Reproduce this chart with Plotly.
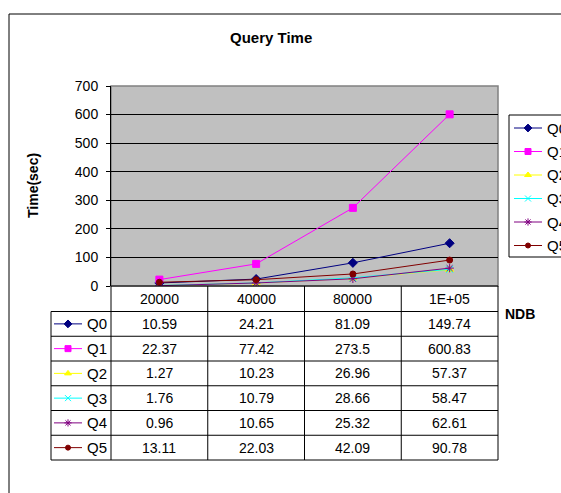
import plotly.graph_objects as go

# ---------------- data ----------------
categories = ["20000", "40000", "80000", "1E+05"]
series_names = ["Q0", "Q1", "Q2", "Q3", "Q4", "Q5"]
q0 = [10.59, 24.21, 81.09, 149.74]
q1 = [22.37, 77.42, 273.5, 600.83]
q2 = [1.27, 10.23, 26.96, 57.37]
q3 = [1.76, 10.79, 28.66, 58.47]
q4 = [0.96, 10.65, 25.32, 62.61]
q5 = [13.11, 22.03, 42.09, 90.78]
series_values = [q0, q1, q2, q3, q4, q5]
y_ticks = [0, 100, 200, 300, 400, 500, 600, 700]

# ---------------- styles ----------------
colors = ["#000080", "#FF00FF", "#FFFF00", "#00FFFF", "#800080", "#800000"]
symbols = ["diamond", "square", "triangle-up", "x-thin-open", "asterisk-open", "circle"]
msizes = [7, 7, 7, 7, 7, 6]

W, H = 561, 493
FONT = "Arial, Liberation Sans, sans-serif"


def px(x):
    return x / W


def py(y):
    return 1 - y / H


# plot area in pixels
L, R, T, B = 111, 498, 86, 286
# table geometry
TAB_L = 51
HEAD_B = 311.5
ROW_H = (460 - HEAD_B) / 6
row_edges = [B, HEAD_B] + [HEAD_B + ROW_H * (i + 1) for i in range(6)]
n_cat = len(categories)
col_w = (R - L) / n_cat

fig = go.Figure()

# main data traces
for name, vals, c, s, ms in zip(series_names, series_values, colors, symbols, msizes):
    fig.add_trace(go.Scatter(
        x=categories, y=vals, name=name, mode="lines+markers",
        line=dict(color=c, width=1),
        marker=dict(symbol=s, size=ms, color=c, line=dict(color=c, width=1)),
        showlegend=False, xaxis="x", yaxis="y", hoverinfo="x+y+name",
    ))

# swatches (table key column and right legend) on a pixel overlay axis
legend_y0, legend_dy = 128, 23.5
for i, (c, s, ms) in enumerate(zip(colors, symbols, msizes)):
    ry = HEAD_B + ROW_H * (i + 0.5)
    for (xa, xb, xm, yy) in [(54, 82, 68, ry), (514, 542, 528, legend_y0 + i * legend_dy)]:
        fig.add_trace(go.Scatter(
            x=[xa, xb], y=[yy, yy], mode="lines", line=dict(color=c, width=1),
            showlegend=False, hoverinfo="skip", xaxis="x2", yaxis="y2"))
        fig.add_trace(go.Scatter(
            x=[xm], y=[yy], mode="markers",
            marker=dict(symbol=s, size=ms - 1, color=c, line=dict(color=c, width=1)),
            showlegend=False, hoverinfo="skip", xaxis="x2", yaxis="y2"))

shapes = []
# outer chart border
shapes.append(dict(type="line", xref="paper", yref="paper", x0=px(9), x1=px(W + 5), y0=py(14), y1=py(14),
                   line=dict(color="#000000", width=1)))
shapes.append(dict(type="line", xref="paper", yref="paper", x0=px(9), x1=px(9), y0=py(14), y1=py(H + 5),
                   line=dict(color="#000000", width=1)))
# plot area background + border
shapes.append(dict(type="rect", xref="paper", yref="paper", x0=px(L), x1=px(R), y0=py(B), y1=py(T),
                   fillcolor="#C0C0C0", line=dict(color="#808080", width=1.5), layer="below"))
# table horizontal lines
shapes.append(dict(type="line", xref="paper", yref="paper", x0=px(L), x1=px(R), y0=py(B), y1=py(B),
                   line=dict(color="#000000", width=1)))
for ye in row_edges[1:]:
    shapes.append(dict(type="line", xref="paper", yref="paper", x0=px(TAB_L), x1=px(R), y0=py(ye), y1=py(ye),
                       line=dict(color="#000000", width=1)))
# table vertical lines
for k in range(n_cat + 1):
    xe = L + k * col_w
    shapes.append(dict(type="line", xref="paper", yref="paper", x0=px(xe), x1=px(xe), y0=py(B), y1=py(row_edges[-1]),
                       line=dict(color="#000000", width=1)))
shapes.append(dict(type="line", xref="paper", yref="paper", x0=px(TAB_L), x1=px(TAB_L), y0=py(HEAD_B),
                   y1=py(row_edges[-1]), line=dict(color="#000000", width=1)))
# legend box
shapes.append(dict(type="rect", xref="paper", yref="paper", x0=px(509), x1=px(W + 20), y0=py(115), y1=py(257),
                   fillcolor="#FFFFFF", line=dict(color="#000000", width=1), layer="below"))

ann = []
ann.append(dict(text="<b>Query Time</b>", x=px(271), y=py(38), xref="paper", yref="paper", showarrow=False,
                font=dict(family=FONT, size=15, color="#000000"), xanchor="center", yanchor="middle"))
ann.append(dict(text="<b>Time(sec)</b>", x=px(33), y=py(186), xref="paper", yref="paper", showarrow=False,
                textangle=-90, font=dict(family=FONT, size=14, color="#000000"), xanchor="center", yanchor="middle"))
ann.append(dict(text="<b>NDB</b>", x=px(520), y=py(314), xref="paper", yref="paper", showarrow=False,
                font=dict(family=FONT, size=14, color="#000000"), xanchor="center", yanchor="middle"))
# header row (category index positions on the category axis)
for k, cat in enumerate(categories):
    ann.append(dict(text=cat, x=k, xref="x", y=py((B + HEAD_B) / 2), yref="paper", showarrow=False,
                    font=dict(family=FONT, size=14, color="#000000"), xanchor="center", yanchor="middle"))
# data rows
for i, (name, vals) in enumerate(zip(series_names, series_values)):
    ry = HEAD_B + ROW_H * (i + 0.5)
    ann.append(dict(text=name, x=px(85), y=py(ry), xref="paper", yref="paper", showarrow=False,
                    font=dict(family=FONT, size=15, color="#000000"), xanchor="left", yanchor="middle"))
    for k, v in enumerate(vals):
        ann.append(dict(text=f"{v:g}", x=k, xref="x", y=py(ry), yref="paper", showarrow=False,
                        font=dict(family=FONT, size=14, color="#000000"), xanchor="center", yanchor="middle"))
    ann.append(dict(text=name, x=px(545), y=py(legend_y0 + i * legend_dy), xref="paper", yref="paper",
                    showarrow=False, font=dict(family=FONT, size=15, color="#000000"),
                    xanchor="left", yanchor="middle"))

fig.update_layout(
    width=W, height=H,
    margin=dict(l=0, r=0, t=0, b=0, autoexpand=False),
    paper_bgcolor="#FFFFFF",
    plot_bgcolor="rgba(0,0,0,0)",
    showlegend=False,
    xaxis=dict(domain=[px(L), px(R)], type="category", range=[-0.5, n_cat - 0.5],
               showticklabels=False, showgrid=False, zeroline=False, showline=False, ticks="",
               fixedrange=True),
    yaxis=dict(domain=[py(B), py(T)], range=[0, 700], tickvals=y_ticks,
               tickfont=dict(family=FONT, size=14, color="#000000"),
               ticks="outside", ticklen=4, tickcolor="#000000", tickwidth=1,
               showline=True, linecolor="#000000", linewidth=1,
               showgrid=True, gridcolor="#000000", gridwidth=1, zeroline=False,
               ticklabelstandoff=5, fixedrange=True),
    xaxis2=dict(domain=[0, 1], range=[0, W], visible=False, fixedrange=True, anchor="y2"),
    yaxis2=dict(domain=[0, 1], range=[H, 0], visible=False, fixedrange=True, anchor="x2"),
    shapes=shapes,
    annotations=ann,
)

fig.write_html("out.html", config={"displayModeBar": False},
               post_script="document.body.style.margin='0';document.body.style.overflow='hidden';")
